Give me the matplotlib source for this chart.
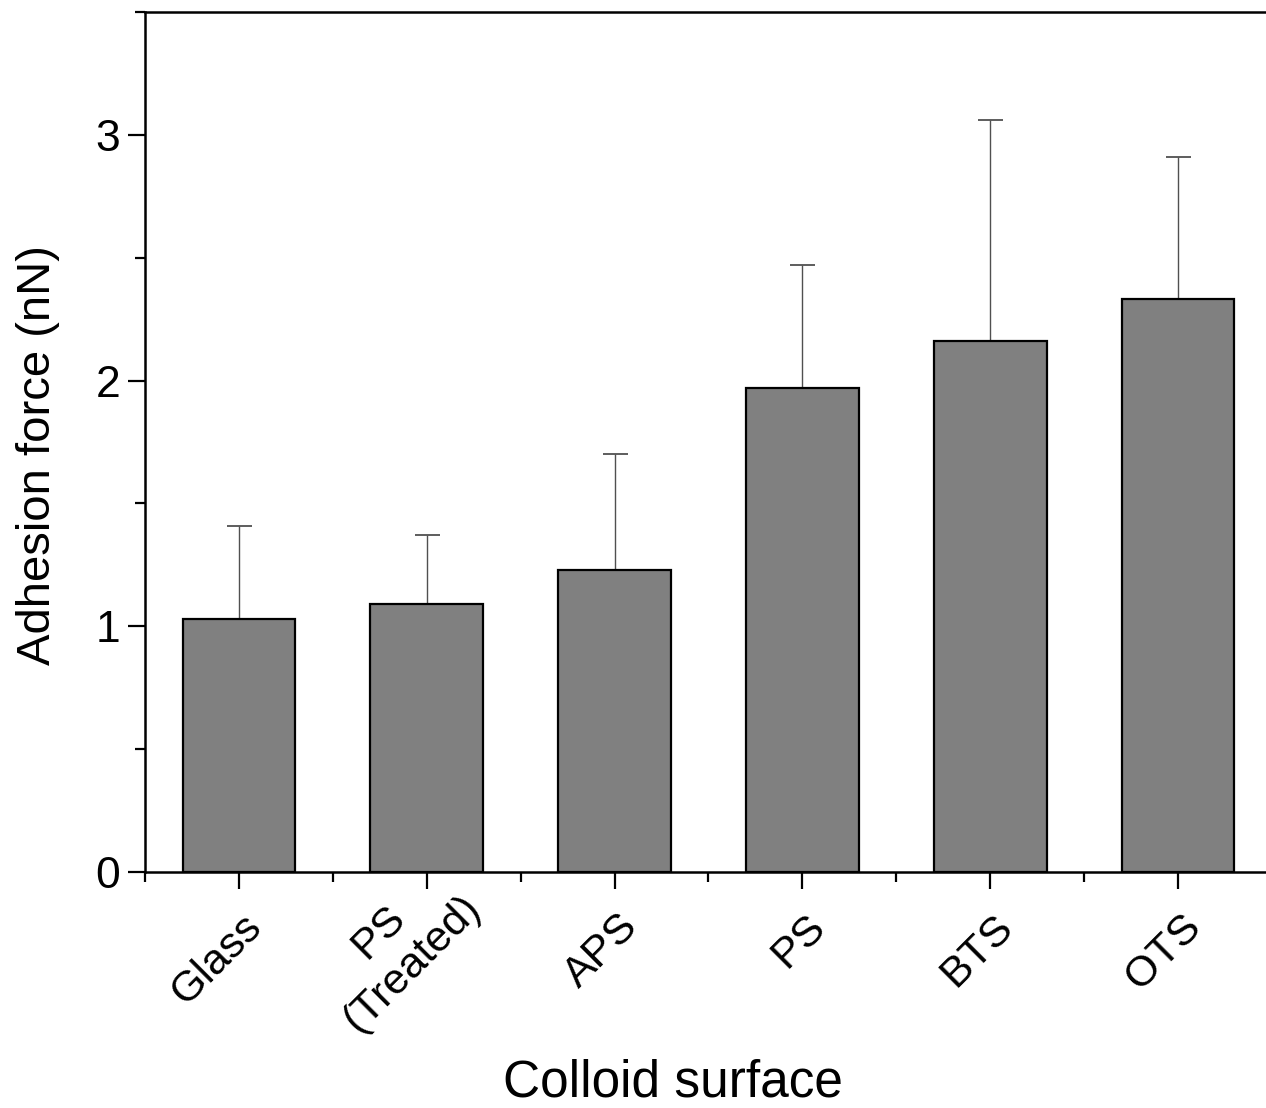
import matplotlib
matplotlib.use("Agg")
import matplotlib.pyplot as plt
from matplotlib.ticker import MultipleLocator, FixedLocator
from matplotlib.transforms import ScaledTranslation
import numpy as np

plt.rcParams['font.family'] = ['Liberation Sans', 'DejaVu Sans']

categories = ["Glass", "PS\n(Treated)", "APS", "PS", "BTS", "OTS"]
values = [1.03, 1.09, 1.23, 1.97, 2.16, 2.33]
errors = [0.38, 0.28, 0.47, 0.50, 0.90, 0.58]

fig = plt.figure(figsize=(12.66, 11.08), dpi=100)
ax = fig.add_axes([145/1266, 236/1108, 1127/1266, 860/1108])

x = np.arange(len(categories))
ax.bar(x, values, width=0.6, color="#808080", edgecolor="black", linewidth=1.6, zorder=2)
ax.errorbar(x, values, yerr=[np.zeros(len(errors)), errors], fmt="none",
            ecolor="#505050", elinewidth=1.0, capsize=9, capthick=1.3, zorder=1)

ax.set_xlim(-0.5, len(categories) - 0.5)
ax.set_ylim(0, 3.5)
ax.yaxis.set_major_locator(FixedLocator([0, 1, 2, 3]))
ax.yaxis.set_minor_locator(MultipleLocator(0.5))
ax.set_xticks(x)
ax.xaxis.set_minor_locator(FixedLocator(np.arange(-0.5, len(categories), 1.0)))
ax.tick_params(which="major", direction="out", length=12, width=1.6)
ax.tick_params(which="minor", direction="out", length=7, width=1.6)
ax.tick_params(axis="y", which="major", labelsize=32, pad=6)
ax.tick_params(axis="x", which="major", labelsize=31, pad=26)
ax.set_xticklabels(categories, rotation=45, ha="right", va="center",
                   rotation_mode="anchor", multialignment="center")

for s in ["left", "bottom", "top"]:
    ax.spines[s].set_linewidth(1.8)
ax.spines["right"].set_visible(False)

ax.set_ylabel("Adhesion force (nN)", fontsize=34)
ax.yaxis.set_label_coords(-0.075, 0.485)
ax.set_xlabel("Colloid surface", fontsize=37)
ax.xaxis.set_label_coords(0.4685, -0.217)

fig.canvas.draw()
for i, lab in enumerate(ax.get_xticklabels()):
    if "\n" in lab.get_text():
        off = ScaledTranslation(0.31, 0.39, fig.dpi_scale_trans)
    else:
        off = ScaledTranslation(0.17, 0.04, fig.dpi_scale_trans)
    lab.set_transform(lab.get_transform() + off)

fig.savefig("out.png", dpi=100)
